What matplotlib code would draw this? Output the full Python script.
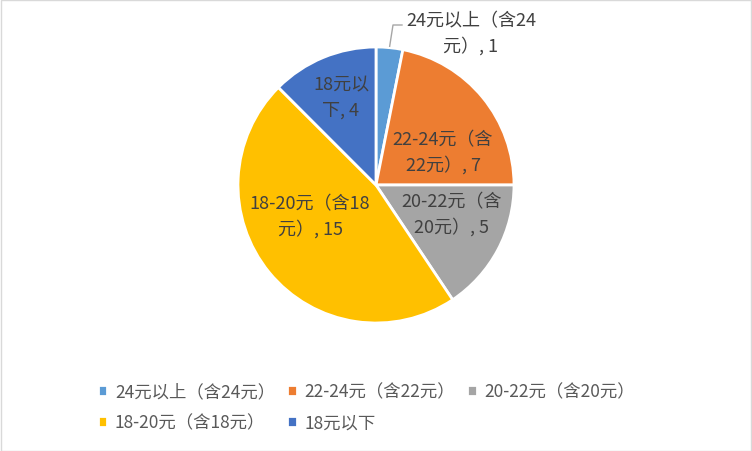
import matplotlib.pyplot as plt
import numpy as np

plt.rcParams['font.family'] = ['Noto Sans CJK SC', 'DejaVu Sans']

# 数据
categories = ["24元以上（含24元）", "22-24元（含22元）", "20-22元（含20元）",
              "18-20元（含18元）", "18元以下"]
values = [1, 7, 5, 15, 4]
label_text = ["24元以上（含24\n元）, 1", "22-24元（含\n22元）, 7", "20-22元（含\n20元）, 5",
              "18-20元（含18\n元）, 15", "18元以\n下, 4"]
colors = ["#5B9BD5", "#ED7D31", "#A5A5A5", "#FFC000", "#4472C4"]

W, H = 752, 452
cx, cy, r = 376, 186, 138

fig = plt.figure(figsize=(W / 100, H / 100), dpi=100)
fig.patches.append(plt.Rectangle((0.5 / W, 0.5 / H), 1 - 1.5 / W, 1 - 1.5 / H,
                                 transform=fig.transFigure, fill=False,
                                 edgecolor="#D9D9D9", linewidth=1))
ax = fig.add_axes([(cx - r) / W, (H - cy - r) / H, 2 * r / W, 2 * r / H])

wedges, _ = ax.pie(values, colors=colors, startangle=90, counterclock=False,
                   radius=1, wedgeprops=dict(edgecolor="white", linewidth=2))
ax.set_xlim(-1, 1)
ax.set_ylim(-1, 1)
ax.set_aspect("equal")
ax.axis("off")

# 标签中心（像素）
label_pos = [(471, 34), (443, 153), (452, 215), (310, 217), (341, 98)]
for i, w in enumerate(wedges):
    px, py = label_pos[i]
    ax.text((px - cx) / r, (cy - py) / r, label_text[i], ha="center", va="center",
            fontsize=13, color="#404040", linespacing=1.45)

# 引导线
a0 = np.deg2rad((wedges[0].theta1 + wedges[0].theta2) / 2)
ax.plot([np.cos(a0) * 1.01, (393 - cx) / r, (402 - cx) / r],
        [np.sin(a0) * 1.01, (cy - 26) / r, (cy - 26) / r],
        color="#A6A6A6", linewidth=1, clip_on=False)

# 图例按行排列
order = [0, 3, 1, 4, 2]
leg = fig.legend([wedges[i] for i in order], [categories[i] for i in order],
                 loc="upper left", ncol=3,
                 bbox_to_anchor=(82 / W, 1 - 368 / H), frameon=False,
                 fontsize=12.5, handlelength=0.55, handleheight=0.55,
                 handletextpad=0.45, columnspacing=0.7, labelspacing=0.75)
for t in leg.get_texts():
    t.set_color("#595959")

plt.savefig("out.png", dpi=100)
